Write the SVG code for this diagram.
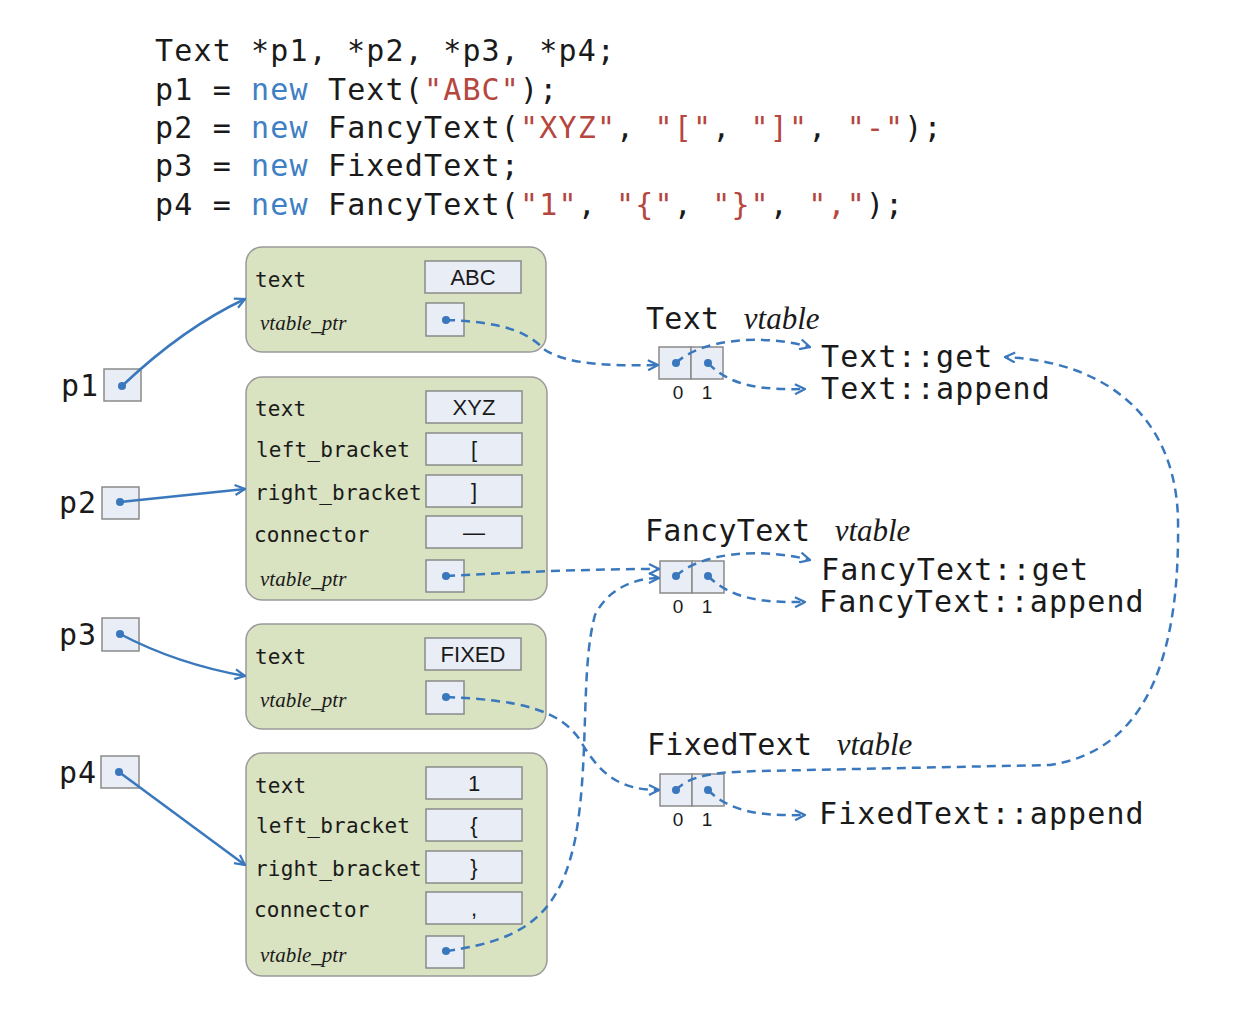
<svg xmlns="http://www.w3.org/2000/svg" width="1236" height="1010" viewBox="0 0 1236 1010">
<style>
.code{font-family:"DejaVu Sans Mono",monospace;font-size:30px;letter-spacing:1.15px;fill:#1a1a1a}
.kw{fill:#3f7fc4}
.str{fill:#b5473f}
.obj{fill:#d9e2c1;stroke:#9a9a9a;stroke-width:1.5}
.val{fill:#e8edf6;stroke:#8a8a8a;stroke-width:1.5}
.fld{font-family:"DejaVu Sans Mono",monospace;font-size:21px;letter-spacing:0.2px;fill:#1a1a1a}
.vp{font-family:"Liberation Serif",serif;font-style:italic;font-size:21px;fill:#1a1a1a}
.vt{font-family:"Liberation Sans",Arial,sans-serif;font-size:22px;fill:#1a1a1a;text-anchor:middle}
.pl{font-family:"DejaVu Sans Mono",monospace;font-size:30px;letter-spacing:1px;fill:#1a1a1a}
.fn{font-family:"DejaVu Sans Mono",monospace;font-size:30px;letter-spacing:1.1px;fill:#1a1a1a}
.ttl{font-family:"DejaVu Sans Mono",monospace;font-size:30px;letter-spacing:0.3px;fill:#1a1a1a}
.ttli{font-family:"Liberation Serif",serif;font-style:italic;font-size:31px;letter-spacing:0px;fill:#1a1a1a}
.idx{font-family:"Liberation Sans",Arial,sans-serif;font-size:19px;fill:#1a1a1a;text-anchor:middle}
.dot{fill:#3a78bd}
.solid{fill:none;stroke:#3a78bd;stroke-width:2.5;marker-end:url(#ah)}
.dash{fill:none;stroke:#3a78bd;stroke-width:2.5;stroke-dasharray:9 6;marker-end:url(#ah)}
</style>
<defs>
<marker id="ah" viewBox="0 0 12 12" refX="11" refY="6" markerWidth="12" markerHeight="12" markerUnits="userSpaceOnUse" orient="auto">
<path d="M1,1 L11,6 L1,11" fill="none" stroke="#3a78bd" stroke-width="2.2"/>
</marker>
</defs>
<rect width="1236" height="1010" fill="#ffffff"/>

<g id="code">
<text class="code" x="155" y="61">Text *p1, *p2, *p3, *p4;</text>
<text class="code" x="155" y="100">p1 = <tspan class="kw">new</tspan> Text(<tspan class="str">"ABC"</tspan>);</text>
<text class="code" x="155" y="138">p2 = <tspan class="kw">new</tspan> FancyText(<tspan class="str">"XYZ"</tspan>, <tspan class="str">"["</tspan>, <tspan class="str">"]"</tspan>, <tspan class="str">"-"</tspan>);</text>
<text class="code" x="155" y="176">p3 = <tspan class="kw">new</tspan> FixedText;</text>
<text class="code" x="155" y="215">p4 = <tspan class="kw">new</tspan> FancyText(<tspan class="str">"1"</tspan>, <tspan class="str">"{"</tspan>, <tspan class="str">"}"</tspan>, <tspan class="str">","</tspan>);</text>
</g>

<g id="p1">
<text class="pl" x="61" y="396">p1</text>
<rect class="val" x="104" y="369" width="37" height="32"/>
<circle class="dot" cx="122" cy="386" r="4"/>
</g>
<g id="p2">
<text class="pl" x="59" y="513">p2</text>
<rect class="val" x="102" y="487" width="37" height="32"/>
<circle class="dot" cx="120" cy="502" r="4"/>
</g>
<g id="p3">
<text class="pl" x="59" y="645">p3</text>
<rect class="val" x="102" y="618" width="37" height="33"/>
<circle class="dot" cx="120" cy="634" r="4"/>
</g>
<g id="p4">
<text class="pl" x="59" y="783">p4</text>
<rect class="val" x="101" y="756" width="38" height="32"/>
<circle class="dot" cx="119" cy="772" r="4"/>
</g>

<g id="obj1">
<rect class="obj" x="246" y="247" width="300" height="105" rx="16"/>
<text class="fld" x="255" y="287">text</text>
<rect class="val" x="425" y="261" width="96" height="32"/>
<text class="vt" x="473" y="285">ABC</text>
<text class="vp" x="260" y="330">vtable_ptr</text>
<rect class="val" x="426" y="303" width="38" height="33"/>
<circle class="dot" cx="446" cy="320" r="4"/>
</g>

<g id="obj2">
<rect class="obj" x="246" y="377" width="301" height="223" rx="16"/>
<text class="fld" x="255" y="416">text</text>
<rect class="val" x="426" y="391" width="96" height="32"/>
<text class="vt" x="474" y="415">XYZ</text>
<text class="fld" x="256" y="457">left_bracket</text>
<rect class="val" x="426" y="433" width="96" height="32"/>
<text class="vt" x="474" y="457">[</text>
<text class="fld" x="255" y="500">right_bracket</text>
<rect class="val" x="426" y="475" width="96" height="32"/>
<text class="vt" x="474" y="499">]</text>
<text class="fld" x="254" y="542">connector</text>
<rect class="val" x="426" y="516" width="96" height="32"/>
<text class="vt" x="474" y="540">—</text>
<text class="vp" x="260" y="586">vtable_ptr</text>
<rect class="val" x="426" y="560" width="38" height="32"/>
<circle class="dot" cx="446" cy="576" r="4"/>
</g>

<g id="obj3">
<rect class="obj" x="246" y="624" width="300" height="105" rx="16"/>
<text class="fld" x="255" y="664">text</text>
<rect class="val" x="425" y="638" width="96" height="32"/>
<text class="vt" x="473" y="662">FIXED</text>
<text class="vp" x="260" y="707">vtable_ptr</text>
<rect class="val" x="426" y="681" width="38" height="33"/>
<circle class="dot" cx="446" cy="697" r="4"/>
</g>

<g id="obj4">
<rect class="obj" x="246" y="753" width="301" height="223" rx="16"/>
<text class="fld" x="255" y="793">text</text>
<rect class="val" x="426" y="767" width="96" height="32"/>
<text class="vt" x="474" y="791">1</text>
<text class="fld" x="256" y="833">left_bracket</text>
<rect class="val" x="426" y="809" width="96" height="32"/>
<text class="vt" x="474" y="833">{</text>
<text class="fld" x="255" y="876">right_bracket</text>
<rect class="val" x="426" y="851" width="96" height="32"/>
<text class="vt" x="474" y="875">}</text>
<text class="fld" x="254" y="917">connector</text>
<rect class="val" x="426" y="892" width="96" height="32"/>
<text class="vt" x="474" y="916">,</text>
<text class="vp" x="260" y="962">vtable_ptr</text>
<rect class="val" x="426" y="936" width="38" height="32"/>
<circle class="dot" cx="446" cy="951" r="4"/>
</g>

<g id="textVtable">
<text class="ttl" x="646" y="329">Text <tspan class="ttli" dx="6">vtable</tspan></text>
<rect class="val" x="659" y="347" width="32" height="32"/>
<rect class="val" x="691" y="347" width="32" height="32"/>
<circle class="dot" cx="676" cy="363" r="4"/>
<circle class="dot" cx="708" cy="363" r="4"/>
<text class="idx" x="678" y="399">0</text>
<text class="idx" x="707" y="399">1</text>
<text class="fn" x="821" y="367">Text::get</text>
<text class="fn" x="821" y="399">Text::append</text>
</g>

<g id="fancyVtable">
<text class="ttl" x="645" y="541">FancyText <tspan class="ttli" dx="6">vtable</tspan></text>
<rect class="val" x="660" y="561" width="32" height="32"/>
<rect class="val" x="692" y="561" width="32" height="32"/>
<circle class="dot" cx="676" cy="576" r="4"/>
<circle class="dot" cx="708" cy="576" r="4"/>
<text class="idx" x="678" y="613">0</text>
<text class="idx" x="707" y="613">1</text>
<text class="fn" x="821" y="580">FancyText::get</text>
<text class="fn" x="819" y="612">FancyText::append</text>
</g>

<g id="fixedVtable">
<text class="ttl" x="647" y="755">FixedText <tspan class="ttli" dx="6">vtable</tspan></text>
<rect class="val" x="660" y="774" width="32" height="32"/>
<rect class="val" x="692" y="774" width="32" height="32"/>
<circle class="dot" cx="676" cy="790" r="4"/>
<circle class="dot" cx="708" cy="790" r="4"/>
<text class="idx" x="678" y="826">0</text>
<text class="idx" x="707" y="826">1</text>
<text class="fn" x="819" y="824">FixedText::append</text>
</g>

<g id="connectors">
<path class="solid" d="M122,386 C160,350 200,320 245,299"/>
<path class="solid" d="M120,502 L245,489"/>
<path class="solid" d="M120,634 C160,655 200,668 245,676"/>
<path class="solid" d="M119,772 L245,865"/>

<path class="dash" d="M446,320 C510,322 530,335 545,350 C570,366 620,366 658,365"/>
<path class="dash" d="M446,576 C520,572 590,569 659,569"/>
<path class="dash" d="M446,951 C530,940 560,910 575,840 C590,760 580,670 595,615 C610,585 640,578 659,578"/>
<path class="dash" d="M446,697 C520,700 560,710 580,740 C600,775 620,790 659,790"/>

<path class="dash" d="M676,363 C700,340 760,333 810,347"/>
<path class="dash" d="M708,363 C730,386 760,390 805,389"/>
<path class="dash" d="M676,576 C700,553 760,547 810,560"/>
<path class="dash" d="M708,576 C730,598 760,603 805,602"/>
<path class="dash" d="M708,790 C730,812 760,816 805,815"/>
<path class="dash" d="M676,790 C690,775 715,772 760,771 L1050,765 C1150,750 1180,650 1178,520 C1176,420 1110,362 1005,357"/>
</g>
</svg>
